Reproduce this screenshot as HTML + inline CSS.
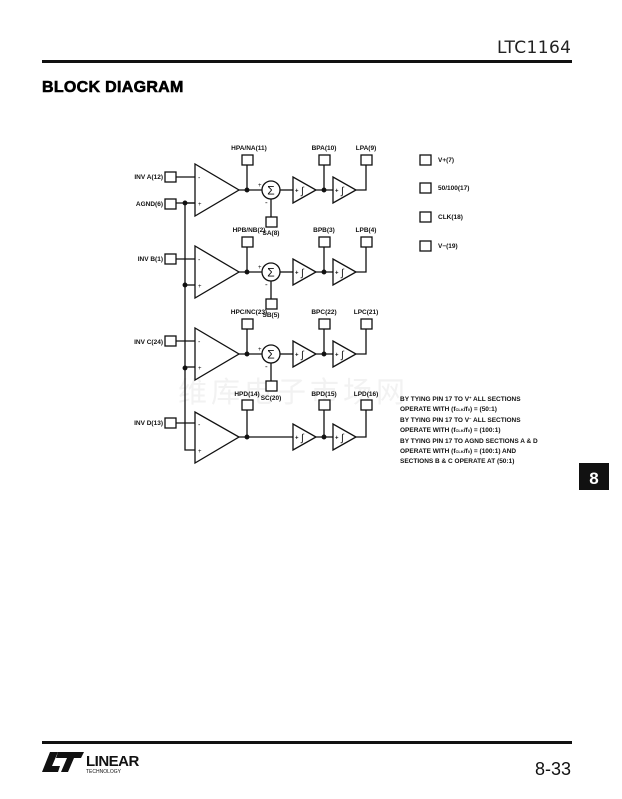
<!DOCTYPE html>
<html><head><meta charset="utf-8"><style>
html,body{margin:0;padding:0;background:#fff;}
svg{display:block;}
text{font-family:"Liberation Sans","Noto Sans CJK SC",sans-serif;}
.l{font-size:6.5px;font-weight:bold;fill:#111;}
</style></head><body>
<svg width="622" height="799" viewBox="0 0 622 799" xmlns="http://www.w3.org/2000/svg">
<rect width="622" height="799" fill="#fff"/>
<!-- header -->
<text x="571" y="53" font-size="17" text-anchor="end" fill="#222" font-family="'DejaVu Sans',sans-serif" style="font-family:'DejaVu Sans',sans-serif;font-weight:normal" textLength="74">LTC1164</text>
<rect x="42" y="60" width="530" height="3" fill="#111"/>
<text x="42" y="92" font-size="16" font-weight="bold" fill="#000" stroke="#000" stroke-width="0.6" letter-spacing="0.3">BLOCK DIAGRAM</text>

<!-- watermark -->
<text x="178" y="402" font-size="29" fill="#f2f2f2" font-family="Noto Serif CJK SC,serif" letter-spacing="4">维库电子市场网</text>

<defs>
<g id="sec" fill="none" stroke="#111" stroke-width="1.3">
  <rect x="165" y="-18" width="11" height="10" fill="#fff"/>
  <line x1="176" y1="-13" x2="195" y2="-13"/>
  <polygon points="195,-26 195,26 239,0" fill="#fff"/>
  <line x1="239" y1="0" x2="262" y2="0"/>
  <line x1="247" y1="0" x2="247" y2="-25"/>
  <rect x="242" y="-35" width="11" height="10" fill="#fff"/>
  <circle cx="247" cy="0" r="1.8" fill="#111"/>
  <circle cx="271" cy="0" r="9" fill="#fff"/>
  <line x1="280" y1="0" x2="293" y2="0"/>
  <line x1="271" y1="9" x2="271" y2="27"/>
  <rect x="266" y="27" width="11" height="10" fill="#fff"/>
  <polygon points="293,-13 293,13 316,0" fill="#fff"/>
  <line x1="316" y1="0" x2="333" y2="0"/>
  <line x1="324" y1="0" x2="324" y2="-25"/>
  <rect x="319" y="-35" width="11" height="10" fill="#fff"/>
  <circle cx="324" cy="0" r="1.8" fill="#111"/>
  <polygon points="333,-13 333,13 356,0" fill="#fff"/>
  <polyline points="356,0 366,0 366,-25"/>
  <rect x="361" y="-35" width="11" height="10" fill="#fff"/>
  <line x1="185" y1="13" x2="195" y2="13"/>
</g>
<g id="intg" fill="#111" stroke="none">
  <text x="295" y="2.5" font-size="6" font-weight="bold">+</text>
  <text x="301" y="4" font-size="10" font-style="italic">∫</text>
  <text x="335" y="2.5" font-size="6" font-weight="bold">+</text>
  <text x="341" y="4" font-size="10" font-style="italic">∫</text>
  <text x="198" y="-10" font-size="7">-</text>
  <text x="198" y="16" font-size="6">+</text>
</g>
<g id="sum" fill="#111" stroke="none">
  <text x="258" y="-3" font-size="6">+</text>
  <text x="271" y="4.5" font-size="12" text-anchor="middle" font-family="'DejaVu Serif',serif">Σ</text>
  <text x="265" y="15" font-size="8">-</text>
</g>
</defs>

<g fill="none" stroke="#111" stroke-width="1.3">
  <rect x="165" y="199" width="11" height="10" fill="#fff"/>
  <line x1="176" y1="203" x2="195" y2="203"/>
  <polyline points="185,203 185,450 195,450"/>
  <circle cx="185" cy="203" r="1.8" fill="#111"/>
  <circle cx="185" cy="285" r="1.8" fill="#111"/>
  <circle cx="185" cy="368" r="1.8" fill="#111"/>
</g>

<g transform="translate(0,190)"><use href="#sec"/><use href="#intg"/><use href="#sum"/></g>
<g transform="translate(0,272)"><use href="#sec"/><use href="#intg"/><use href="#sum"/></g>
<g transform="translate(0,354)"><use href="#sec"/><use href="#intg"/><use href="#sum"/></g>
<g transform="translate(0,437)">
 <g fill="none" stroke="#111" stroke-width="1.3">
  <rect x="165" y="-19" width="11" height="10" fill="#fff"/>
  <line x1="176" y1="-14" x2="195" y2="-14"/>
  <polygon points="195,-25 195,26 239,0" fill="#fff"/>
  <line x1="239" y1="0" x2="293" y2="0"/>
  <line x1="247" y1="0" x2="247" y2="-27"/>
  <rect x="242" y="-37" width="11" height="10" fill="#fff"/>
  <circle cx="247" cy="0" r="1.8" fill="#111"/>
  <polygon points="293,-13 293,13 316,0" fill="#fff"/>
  <line x1="316" y1="0" x2="333" y2="0"/>
  <line x1="324" y1="0" x2="324" y2="-27"/>
  <rect x="319" y="-37" width="11" height="10" fill="#fff"/>
  <circle cx="324" cy="0" r="1.8" fill="#111"/>
  <polygon points="333,-13 333,13 356,0" fill="#fff"/>
  <polyline points="356,0 366,0 366,-27"/>
  <rect x="361" y="-37" width="11" height="10" fill="#fff"/>
 </g>
 <use href="#intg"/>
</g>

<g class="l">
<text class="l" x="163" y="179" text-anchor="end">INV A(12)</text>
<text class="l" x="163" y="206" text-anchor="end">AGND(6)</text>
<text class="l" x="163" y="261" text-anchor="end">INV B(1)</text>
<text class="l" x="163" y="344" text-anchor="end">INV C(24)</text>
<text class="l" x="163" y="425" text-anchor="end">INV D(13)</text>

<text class="l" x="249" y="150" text-anchor="middle">HPA/NA(11)</text>
<text class="l" x="324" y="150" text-anchor="middle">BPA(10)</text>
<text class="l" x="366" y="150" text-anchor="middle">LPA(9)</text>
<text class="l" x="271" y="235" text-anchor="middle">SA(8)</text>

<text class="l" x="249" y="232" text-anchor="middle">HPB/NB(2)</text>
<text class="l" x="324" y="232" text-anchor="middle">BPB(3)</text>
<text class="l" x="366" y="232" text-anchor="middle">LPB(4)</text>
<text class="l" x="271" y="317" text-anchor="middle">SB(5)</text>

<text class="l" x="249" y="314" text-anchor="middle">HPC/NC(23)</text>
<text class="l" x="324" y="314" text-anchor="middle">BPC(22)</text>
<text class="l" x="366" y="314" text-anchor="middle">LPC(21)</text>
<text class="l" x="271" y="400" text-anchor="middle">SC(20)</text>

<text class="l" x="247" y="396" text-anchor="middle">HPD(14)</text>
<text class="l" x="324" y="396" text-anchor="middle">BPD(15)</text>
<text class="l" x="366" y="396" text-anchor="middle">LPD(16)</text>

<text class="l" x="438" y="162">V+(7)</text>
<text class="l" x="438" y="190">50/100(17)</text>
<text class="l" x="438" y="219">CLK(18)</text>
<text class="l" x="438" y="248">V−(19)</text>

<text class="l" x="400" y="401" font-size="5.8">BY TYING PIN 17 TO V<tspan font-size="4" dy="-2">+</tspan><tspan dy="2"> ALL SECTIONS</tspan></text>
<text class="l" x="400" y="411" font-size="5.8">OPERATE WITH (f<tspan font-size="4">CLK</tspan>/f<tspan font-size="4">0</tspan>) = (50:1)</text>
<text class="l" x="400" y="422" font-size="5.8">BY TYING PIN 17 TO V<tspan font-size="4" dy="-2">−</tspan><tspan dy="2"> ALL SECTIONS</tspan></text>
<text class="l" x="400" y="432" font-size="5.8">OPERATE WITH (f<tspan font-size="4">CLK</tspan>/f<tspan font-size="4">0</tspan>) = (100:1)</text>
<text class="l" x="400" y="443" font-size="5.8">BY TYING PIN 17 TO AGND SECTIONS A &amp; D</text>
<text class="l" x="400" y="453" font-size="5.8">OPERATE WITH (f<tspan font-size="4">CLK</tspan>/f<tspan font-size="4">0</tspan>) = (100:1) AND</text>
<text class="l" x="400" y="463" font-size="5.8">SECTIONS B &amp; C OPERATE AT (50:1)</text>
</g>
<g fill="#fff" stroke="#111" stroke-width="1.3">
<rect x="420" y="155" width="11" height="10"/>
<rect x="420" y="183" width="11" height="10"/>
<rect x="420" y="212" width="11" height="10"/>
<rect x="420" y="241" width="11" height="10"/>
</g>

<rect x="579" y="463" width="30" height="27" fill="#111"/>
<text x="594" y="484" font-size="17" font-weight="bold" fill="#fff" text-anchor="middle">8</text>

<rect x="42" y="741" width="530" height="3" fill="#111"/>
<g fill="#111">
<polygon points="42,772 50,752 58,752 52,766 60,766 58,772"/>
<polygon points="58,752 84,752 81,758 74,758 68,772 61,772 67,758 56,758"/>
</g>
<text x="86" y="766" font-size="15" fill="#111" font-weight="bold" letter-spacing="-0.5">LINEAR</text>
<text x="86" y="773" font-size="5" fill="#111">TECHNOLOGY</text>
<text x="571" y="775" font-size="18" text-anchor="end" fill="#111">8-33</text>
</svg>
</body></html>
